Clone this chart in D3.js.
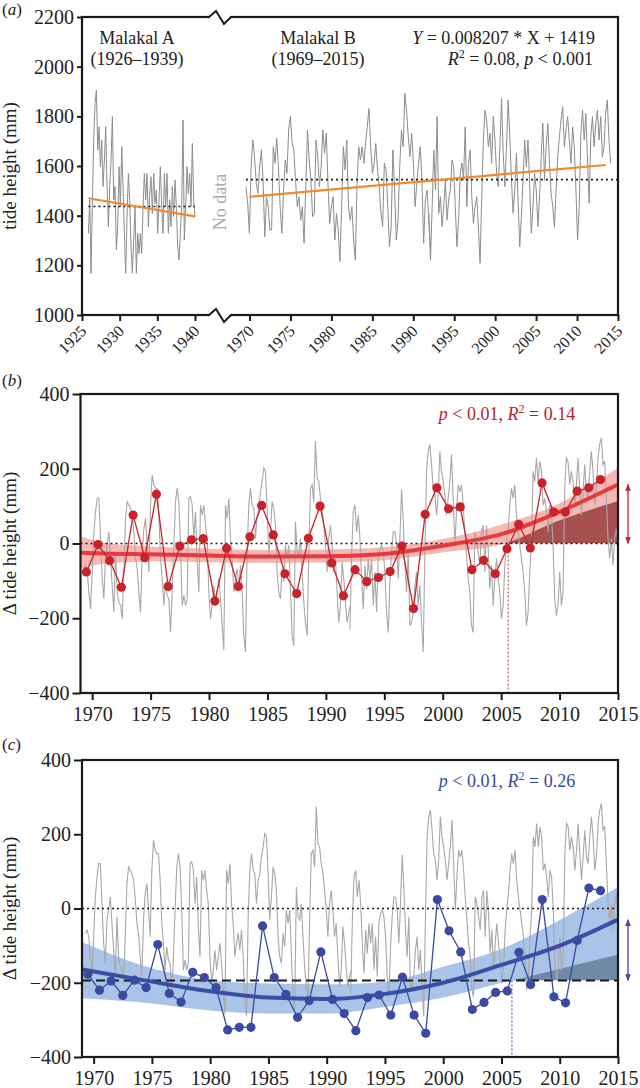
<!DOCTYPE html>
<html><head><meta charset="utf-8">
<script src="https://cdn.jsdelivr.net/npm/d3@7"></script>
<style>
body{margin:0;background:#fff}
svg{display:block}
</style>
</head><body>
<svg id="chart" width="640" height="1088"></svg>
<script>
// ---------------- DATA ----------------
// Panel (a): Malakal A (1926–1939) tide height, mm
const tideA = [1329,1463,1168,1463,1705,1852,1906,1664,1758,1597,1705,1517,1624,1758,1517,1356,1517,1624,1799,1463,1517,1262,1356,1597,1436,1678,1517,1329,1168,1396,1570,1463,1275,1168,1302,1436,1168,1329,1248,1329,1248,1436,1570,1463,1570,1356,1490,1557,1409,1570,1449,1503,1329,1463,1597,1436,1329,1570,1436,1570,1329,1463,1356,1517,1396,1543,1436,1275,1221,1329,1436,1785,1302,1436,1597,1490,1570,1436,1691,1463,1396];
const tideASpan = [1925.85, 1940.0];
// Panel (a): Malakal B (1969–2015) tide height, mm (two read segments)
const tideB1 = [1517,1450,1329,1597,1705,1638,1530,1490,1597,1665,1543,1315,1476,1436,1342,1342,1678,1611,1711,1597,1436,1329,1503,1624,1570,1745,1799,1691,1665,1543,1436,1476,1382,1436,1289,1517,1745,1624,1543,1396,1409,1705,1638,1517,1597,1745,1651,1732,1530,1369,1436,1476,1302,1409,1342,1215,1436,1678,1584,1705,1436,1382,1436,1302,1221,1530,1678,1624,1678,1611,1691,1758,1832,1678,1570,1611,1691,1584,1517,1409,1356,1611,1584,1436,1275,1356,1665,1503,1302,1382,1597,1745,1678,1893,1825,1718,1638,1732,1611,1436,1530,1611,1678,1543,1289,1463,1503,1382,1262];
const tideB1Span = [1969.57, 1992.1];
const tideB2 = [1409,1221,1436,1664,1503,1799,1409,1476,1356,1436,1543,1382,1463,1503,1624,1597,1436,1275,1382,1570,1611,1543,1758,1436,1611,1664,1476,1369,1436,1476,1356,1208,1476,1705,1825,1785,1678,1732,1611,1799,1705,1570,1517,1678,1873,1651,1517,1678,1866,1718,1543,1409,1503,1651,1463,1275,1396,1543,1705,1597,1705,1530,1329,1436,1570,1503,1356,1476,1637,1772,1543,1678,1772,1611,1490,1436,1356,1503,1637,1718,1785,1839,1678,1745,1799,1705,1611,1758,1678,1503,1302,1436,1732,1825,1705,1812,1624,1450,1718,1799,1678,1772,1825,1705,1799,1637,1678,1812,1866,1705,1611];
const tideB2Span = [1991.9, 2014.1];
const meanA = 1437, meanB = 1545;
const fitAYears = [1925.85, 1940], fitAValues = [1470, 1397];
const fitBYears = [1970, 2013.5], fitBValues = [1476, 1604];
const axisAYearsLeft = [1925, 1930, 1935, 1940];
const axisAYearsRight = [1970, 1975, 1980, 1985, 1990, 1995, 2000, 2005, 2010, 2015];
const axisAValues = [1000, 1200, 1400, 1600, 1800, 2000, 2200];

// Panels (b),(c): monthly tide anomaly (mm), two read segments
const anom1 = [-67,-58,-76,-130,-175,-76,31,85,121,121,13,-94,-148,-31,-4,31,-40,-112,-184,-22,-130,-157,-166,-202,-76,67,112,103,94,76,31,-40,-67,-130,-184,-31,40,67,-4,-76,103,184,157,148,148,76,-40,-94,-166,-103,-139,-148,-238,-130,-4,112,148,112,-4,-166,-139,-166,-148,121,126,103,13,85,-49,-130,103,76,103,49,13,-130,-202,-166,-112,-166,-130,-94,-148,-220,-285,103,67,121,13,-40,-130,-94,-67,-112,-58,-130,-247,-290,-22,103,148,103,94,13,76,94,139,166,202,193,94,-31,31,112,94,49,-76,-130,-148,-67,-103,-4,-40,-4,-121,-247,-274,58,-22,-31,13,-76,-157,-211,-247,-31,148,157,112,274,175,166,121,94,49,-4,-76,13,49,-4,-76,-40,-130,-211,-166,-49,-94,-157,-211,-184,-166];
const anom1Span = [1969.29, 1992.1];
const anom2 = [-230,-31,85,103,31,76,13,-94,-175,-58,-121,-40,-94,-40,-166,-76,-184,-40,-13,-4,-22,-76,-184,-238,-103,-22,31,31,-4,-94,13,144,58,-58,-130,-22,-220,-211,-184,-112,-76,-166,-112,-211,-290,-31,193,247,265,211,148,130,76,130,247,193,166,130,76,121,166,238,121,-4,85,157,139,157,103,31,-31,-94,-130,-220,-238,31,13,-22,-58,31,49,-76,49,-13,-121,-58,-166,-94,-40,-94,-130,-202,-166,-58,-4,40,103,148,121,157,76,31,-4,-40,-76,-130,-220,-184,-76,-4,193,166,229,166,220,193,103,121,85,31,103,85,-4,-148,-193,-166,-76,-166,-130,148,229,220,157,193,166,103,157,229,148,76,139,211,139,121,193,247,193,103,139,229,265,283,211,220,121,13,-40,13,-58,13,40,-4];
const anom2Span = [1992.06, 2015.0];

const annualYears = d3.range(1969, 2014).map(y => y + 0.5);
const annualRed = [-76,-3,-46,-117,76,-38,132,-115,-7,10,13,-154,-13,-115,18,102,23,-81,-134,14,100,-52,-140,-70,-102,-91,-75,-7,-174,78,149,93,98,-70,-45,-81,-14,51,-12,162,84,84,140,149,171];
const annualBlue = [-177,-220,-195,-234,-193,-213,-97,-229,-252,-172,-186,-213,-327,-320,-320,-47,-186,-231,-293,-248,-117,-245,-283,-329,-240,-233,-287,-185,-287,-336,24,-60,-117,-272,-253,-226,-222,-118,-205,24,-238,-254,-86,55,48];

const trendYearsB = [1969, 1971, 1975, 1980, 1985, 1990, 1995, 2000, 2005, 2010, 2015];
const trendB  = [-25, -27, -29, -32, -35, -34, -28, -6, 25, 85, 158];
const upperB  = [20, 2, -8, -14, -17, -16, -10, 12, 50, 108, 203];
const lowerB  = [-67, -54, -48, -50, -52, -51, -45, -24, -3, 62, 114];
const crossB = 2005.6;
const baseB = 0;

const trendYearsC = [1969, 1975, 1980, 1985, 1990, 1995, 2000, 2005, 2010, 2015];
const trendC = [-164, -197, -223, -240, -244, -230, -200, -152, -100, -30];
const upperC = [-90, -161, -193, -202, -204, -197, -157, -109, -31, 58];
const lowerC = [-242, -256, -275, -283, -283, -265, -240, -200, -162, -124];
const crossC = 2005.9;
const baseC = -194;

const axisBCYears = [1970, 1975, 1980, 1985, 1990, 1995, 2000, 2005, 2010, 2015];
const axisBCValues = [-400, -200, 0, 200, 400];

// ---------------- DRAW ----------------
const serif = '"Liberation Serif","Times New Roman",Times,serif';
const svg = d3.select('#chart');
const INK = '#1a1a1a';

function spread(vals, span) {
  const n = vals.length;
  return vals.map((v, i) => ({t: span[0] + i * (span[1] - span[0]) / (n - 1), v}));
}
function styleAxis(g, fs) {
  g.select('.domain').remove();
  g.selectAll('.tick line').attr('stroke', INK).attr('stroke-width', 2);
  g.selectAll('.tick text').attr('font-family', serif).attr('font-size', fs).attr('fill', '#222');
}
function frame(x0, x1, y0, y1) {
  svg.append('rect').attr('x', x0).attr('y', y0).attr('width', x1 - x0).attr('height', y1 - y0)
    .attr('fill', 'none').attr('stroke', INK).attr('stroke-width', 2.2);
}
function txt(x, y, s, opts = {}) {
  const t = svg.append('text').attr('x', x).attr('y', y).attr('font-family', serif)
    .attr('font-size', opts.size || 18).attr('fill', opts.fill || '#222')
    .attr('text-anchor', opts.anchor || 'start');
  if (s) t.text(s);
  if (opts.italic) t.attr('font-style', 'italic');
  if (opts.transform) t.attr('transform', opts.transform);
  return t;
}

const defs = svg.append('defs');
function arrowMarker(id, color) {
  defs.append('marker').attr('id', id).attr('viewBox', '0 0 10 10').attr('refX', 9).attr('refY', 5)
    .attr('markerWidth', 7).attr('markerHeight', 7).attr('orient', 'auto-start-reverse')
    .attr('markerUnits', 'userSpaceOnUse')
    .append('path').attr('d', 'M0,1 L10,5 L0,9 Z').attr('fill', color);
}
arrowMarker('arR', '#c9222b');
arrowMarker('arB', '#3a4aa0');

// ===== Panel (a) =====
const A = {l: 82, r: 618, t: 17, b: 315};
const yA = d3.scaleLinear().domain([1000, 2200]).range([A.b, A.t]);
const xA1 = d3.scaleLinear().domain([1925, 1940]).range([82, 195]);
const xA2 = d3.scaleLinear().domain([1970, 2015]).range([249.5, 618]);

const grayA = '#8d8d8d';
const lineA1 = d3.line().x(d => xA1(d.t)).y(d => yA(d.v));
const lineA2 = d3.line().x(d => xA2(d.t)).y(d => yA(d.v));
svg.append('path').attr('d', lineA1(spread(tideA, tideASpan))).attr('fill', 'none').attr('stroke', grayA).attr('stroke-width', 1);
svg.append('path').attr('d', lineA2(spread(tideB1, tideB1Span))).attr('fill', 'none').attr('stroke', grayA).attr('stroke-width', 1);
svg.append('path').attr('d', lineA2(spread(tideB2, tideB2Span))).attr('fill', 'none').attr('stroke', grayA).attr('stroke-width', 1);

svg.append('line').attr('x1', xA1(tideASpan[0])).attr('x2', xA1(tideASpan[1])).attr('y1', yA(meanA)).attr('y2', yA(meanA))
  .attr('stroke', INK).attr('stroke-width', 1.6).attr('stroke-dasharray', '2,3');
svg.append('line').attr('x1', xA2(tideB1Span[0])).attr('x2', A.r).attr('y1', yA(meanB)).attr('y2', yA(meanB))
  .attr('stroke', INK).attr('stroke-width', 1.6).attr('stroke-dasharray', '2,3');
const orange = '#f0892c';
svg.append('line').attr('x1', xA1(fitAYears[0])).attr('x2', xA1(fitAYears[1])).attr('y1', yA(fitAValues[0])).attr('y2', yA(fitAValues[1]))
  .attr('stroke', orange).attr('stroke-width', 2.2);
svg.append('line').attr('x1', xA2(fitBYears[0])).attr('x2', xA2(fitBYears[1])).attr('y1', yA(fitBValues[0])).attr('y2', yA(fitBValues[1]))
  .attr('stroke', orange).attr('stroke-width', 2.2);

frame(A.l, A.r, A.t, A.b);
const bx = 210;
[A.t, A.b].forEach(yy => {
  svg.append('rect').attr('x', bx).attr('y', yy - 3).attr('width', 20).attr('height', 6).attr('fill', '#fff');
  svg.append('path').attr('d', `M${bx - 1},${yy} L${bx + 6},${yy - 6} L${bx + 14},${yy + 7} L${bx + 21},${yy}`)
    .attr('fill', 'none').attr('stroke', INK).attr('stroke-width', 2);
});

const gAy = svg.append('g').attr('transform', `translate(${A.l},0)`)
  .call(d3.axisLeft(yA).tickValues(axisAValues).tickSize(5).tickPadding(3).tickFormat(d3.format('d')));
styleAxis(gAy, 20);
[[xA1, axisAYearsLeft], [xA2, axisAYearsRight]].forEach(([sc, vals]) => {
  const g = svg.append('g').attr('transform', `translate(0,${A.b})`)
    .call(d3.axisBottom(sc).tickValues(vals).tickSize(6).tickFormat(d3.format('d')));
  styleAxis(g, 16);
  g.selectAll('.tick text').attr('x', 0).attr('y', 0).attr('dy', 0).attr('text-anchor', 'end')
    .attr('transform', 'translate(5,17) rotate(-45)');
});

function panelLabel(y, letter) {
  const t = txt(2, y, '', {size: 17});
  t.append('tspan').text('(');
  t.append('tspan').attr('font-style', 'italic').text(letter);
  t.append('tspan').text(')');
}
panelLabel(15, 'a');
panelLabel(386, 'b');
panelLabel(750, 'c');

txt(16, (A.t + A.b) / 2, 'tide height (mm)', {size: 19, anchor: 'middle', transform: `rotate(-90,16,${(A.t + A.b) / 2})`});
txt(137, 44, 'Malakal A', {size: 18, anchor: 'middle'});
txt(137, 65, '(1926–1939)', {size: 18, anchor: 'middle'});
txt(318, 44, 'Malakal B', {size: 18, anchor: 'middle'});
txt(318, 65, '(1969–2015)', {size: 18, anchor: 'middle'});
{
  const t = txt(595, 44, '', {size: 18, anchor: 'end'});
  t.append('tspan').attr('font-style', 'italic').text('Y');
  t.append('tspan').text(' = 0.008207 * X + 1419');
  const t2 = txt(593, 65, '', {size: 18, anchor: 'end'});
  t2.append('tspan').attr('font-style', 'italic').text('R');
  t2.append('tspan').attr('font-size', 12).attr('dy', -7).text('2');
  t2.append('tspan').attr('dy', 7).text(' = 0.08, ');
  t2.append('tspan').attr('font-style', 'italic').text('p');
  t2.append('tspan').text(' < 0.001');
}
txt(226, 202, 'No data', {size: 18, anchor: 'middle', fill: '#a9a9a9', transform: 'rotate(-90,226,202)'});

// ===== Panels (b) and (c) =====
function anomalyPanel(cfg) {
  const {l, r, t, b, annual, ptColor, lineColor, bandColor, darkColor, trend, upper, lower, tYears, base, cross, arrowId, label, labelColor, labelY, baseDashed} = cfg;
  const x = d3.scaleLinear().domain([1969, 2015]).range([l, r]);
  const y = d3.scaleLinear().domain([-400, 400]).range([b, t]);
  const clipId = 'clip' + arrowId;
  defs.append('clipPath').attr('id', clipId).append('rect').attr('x', l).attr('y', t).attr('width', r - l).attr('height', y(base) - t);
  const knots = tYears.map((yr, i) => ({t: yr, m: trend[i], u: upper[i], lo: lower[i]}));
  const cv = d3.curveMonotoneX;
  svg.append('path').attr('d', d3.area().curve(cv).x(d => x(d.t)).y0(d => y(d.lo)).y1(d => y(d.u))(knots))
    .attr('fill', bandColor);
  svg.append('path').attr('clip-path', `url(#${clipId})`)
    .attr('d', d3.area().curve(cv).x(d => x(d.t)).y0(() => y(base)).y1(d => y(d.lo))(knots.filter(d => d.t >= cross - 6)))
    .attr('fill', darkColor);
  const gl = d3.line().x(d => x(d.t)).y(d => y(d.v));
  [[anom1, anom1Span], [anom2, anom2Span]].forEach(([v, s]) => {
    svg.append('path').attr('d', gl(spread(v, s))).attr('fill', 'none').attr('stroke', '#a8a8a8').attr('stroke-width', 1.1);
  });
  svg.append('line').attr('x1', l).attr('x2', r).attr('y1', y(0)).attr('y2', y(0))
    .attr('stroke', INK).attr('stroke-width', 1.6).attr('stroke-dasharray', '2,3');
  if (baseDashed) {
    svg.append('line').attr('x1', l).attr('x2', r).attr('y1', y(base)).attr('y2', y(base))
      .attr('stroke', INK).attr('stroke-width', 2).attr('stroke-dasharray', '9,5');
  }
  svg.append('line').attr('x1', x(cross)).attr('x2', x(cross)).attr('y1', y(base)).attr('y2', b)
    .attr('stroke', ptColor).attr('stroke-width', 1).attr('stroke-dasharray', '2,2');
  svg.append('path').attr('d', d3.line().curve(cv).x(d => x(d.t)).y(d => y(d.m))(knots))
    .attr('fill', 'none').attr('stroke', lineColor).attr('stroke-width', 4);
  const pts = annualYears.map((yr, i) => ({t: yr, v: annual[i]}));
  svg.append('path').attr('d', gl(pts)).attr('fill', 'none').attr('stroke', ptColor).attr('stroke-width', 1.3);
  svg.append('g').selectAll('circle').data(pts).join('circle')
    .attr('cx', d => x(d.t)).attr('cy', d => y(d.v)).attr('r', 4.6).attr('fill', ptColor);
  frame(l, r, t, b);
  const gy = svg.append('g').attr('transform', `translate(${l},0)`)
    .call(d3.axisLeft(y).tickValues(axisBCValues).tickSize(8).tickPadding(3).tickFormat(d3.format('d')));
  styleAxis(gy, 20);
  const gx = svg.append('g').attr('transform', `translate(0,${b})`)
    .call(d3.axisBottom(x).tickValues(axisBCYears).tickSize(7).tickPadding(7).tickFormat(d3.format('d')));
  styleAxis(gx, 20);
  svg.append('line').attr('x1', 628).attr('x2', 628).attr('y1', y(base)).attr('y2', y(trend[trend.length - 1]))
    .attr('stroke', ptColor).attr('stroke-width', 1.3)
    .attr('marker-start', `url(#${arrowId})`).attr('marker-end', `url(#${arrowId})`);
  const tt = txt(507, labelY, '', {size: 18, anchor: 'middle', fill: labelColor});
  tt.append('tspan').attr('font-style', 'italic').text('p');
  tt.append('tspan').text(' < 0.01, ');
  tt.append('tspan').attr('font-style', 'italic').text('R');
  tt.append('tspan').attr('font-size', 12).attr('dy', -7).text('2');
  tt.append('tspan').attr('dy', 7).text(' = ' + label);
  const cy = (t + b) / 2;
  txt(16, cy, 'Δ tide height (mm)', {size: 19, anchor: 'middle', transform: `rotate(-90,16,${cy})`});
}

anomalyPanel({l: 80.5, r: 618, t: 394, b: 693, annual: annualRed, ptColor: '#c9222b', lineColor: '#e63a3f',
  bandColor: '#f7b7b4', darkColor: '#a6504f', trend: trendB, upper: upperB, lower: lowerB, tYears: trendYearsB,
  base: baseB, cross: crossB, arrowId: 'arR', label: '0.14', labelColor: '#b5262c', labelY: 420, baseDashed: false});
anomalyPanel({l: 82, r: 618, t: 760, b: 1057, annual: annualBlue, ptColor: '#3a4aa0', lineColor: '#3a4ea3',
  bandColor: '#a9c4e8', darkColor: '#6f89a6', trend: trendC, upper: upperC, lower: lowerC, tYears: trendYearsC,
  base: baseC, cross: crossC, arrowId: 'arB', label: '0.26', labelColor: '#3a4a9c', labelY: 787, baseDashed: true});
</script>
</body></html>
